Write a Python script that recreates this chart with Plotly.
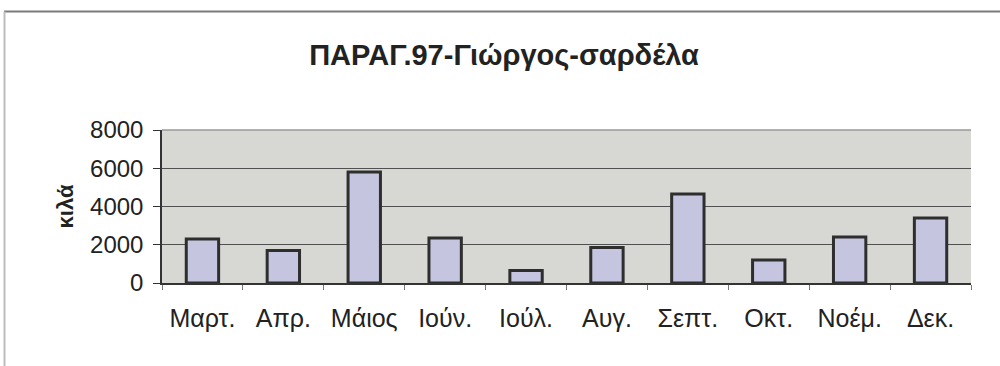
import plotly.graph_objects as go

# Monthly catch (kg) for 1997
months = ["Μαρτ.", "Απρ.", "Μάιος", "Ιούν.", "Ιούλ.", "Αυγ.", "Σεπτ.", "Οκτ.", "Νοέμ.", "Δεκ."]
kilos = [2300, 1700, 5800, 2350, 650, 1850, 4650, 1200, 2400, 3400]
y_ticks = [0, 2000, 4000, 6000, 8000]

title_text = "ΠΑΡΑΓ.97-Γιώργος-σαρδέλα"
y_title = "κιλά"

FONT = "Liberation Sans, Arial, sans-serif"
INK = "#222222"

fig = go.Figure(
    go.Bar(
        x=months,
        y=kilos,
        marker=dict(color="#c5c5df", line=dict(color="#2e2e2e", width=3)),
        hoverinfo="x+y",
    )
)

L, R, T, B = 162, 29, 130, 83
W, H = 1000, 366
pw, ph = W - L - R, H - T - B


def px_x(px):
    return (px - L) / pw


def px_y(py):
    return (H - B - py) / ph


fig.update_layout(
    width=W,
    height=H,
    margin=dict(l=L, r=R, t=T, b=B),
    paper_bgcolor="white",
    plot_bgcolor="#d7d7d3",
    bargap=0.6,
    showlegend=False,
    font=dict(family=FONT, color=INK),
    title=dict(
        text=title_text,
        x=0.504,
        xref="container",
        xanchor="center",
        y=1 - 55 / H,
        yanchor="middle",
        font=dict(size=29, family=FONT, color=INK, weight="bold"),
    ),
    xaxis=dict(
        type="category",
        showgrid=False,
        showline=True,
        linecolor="#333333",
        linewidth=1.5,
        ticks="outside",
        tickson="boundaries",
        ticklen=5,
        tickcolor="#777777",
        tickfont=dict(size=25, family=FONT, color=INK),
        ticklabelstandoff=12,
    ),
    yaxis=dict(
        range=[0, 8000],
        tickvals=y_ticks,
        showgrid=True,
        gridcolor="#505050",
        gridwidth=1,
        zeroline=False,
        showline=True,
        linecolor="#333333",
        linewidth=1.5,
        ticks="outside",
        ticklen=7,
        tickcolor="#333333",
        tickfont=dict(size=24, family=FONT, color=INK),
        ticklabelstandoff=5,
        title=dict(
            text=y_title,
            font=dict(size=22, family=FONT, color=INK, weight="bold"),
            standoff=10,
        ),
    ),
    shapes=[
        # outer frame: top edge and left edge
        dict(type="line", xref="paper", yref="paper",
             x0=px_x(4), x1=px_x(1000), y0=px_y(11.5), y1=px_y(11.5),
             line=dict(color="#7a7a7a", width=2)),
        dict(type="line", xref="paper", yref="paper",
             x0=px_x(4.5), x1=px_x(4.5), y0=px_y(11.5), y1=px_y(366),
             line=dict(color="#bdbdbd", width=2)),
        # lighter top border of the plot area
        dict(type="line", xref="paper", yref="paper",
             x0=0, x1=1, y0=1, y1=1,
             line=dict(color="#9a9a9a", width=1.5)),
    ],
)

fig.write_html("out.html")
